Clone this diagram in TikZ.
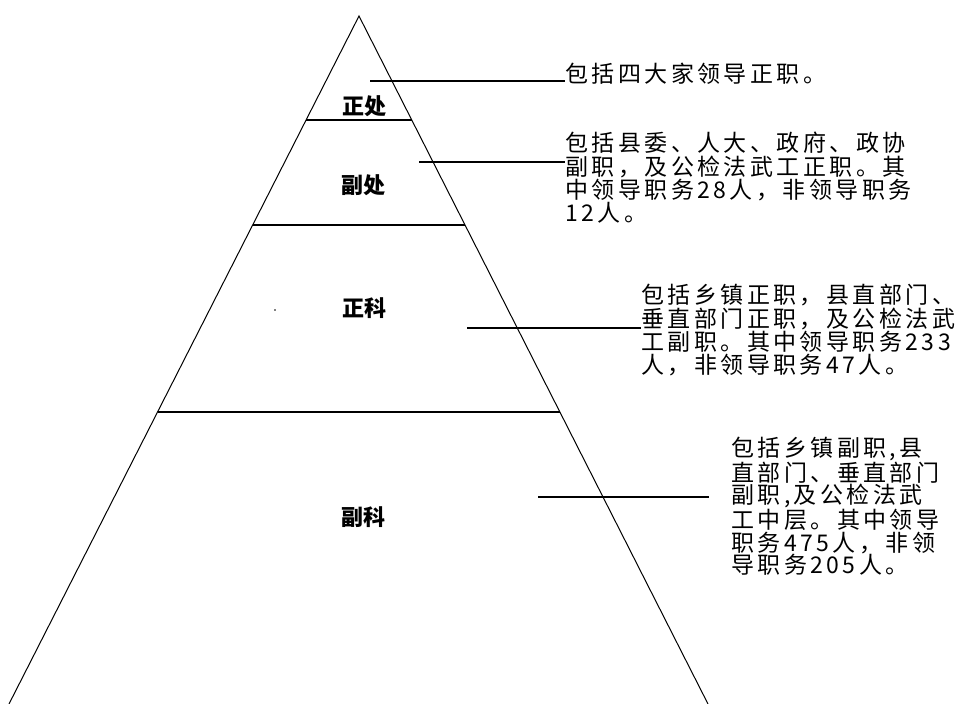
\documentclass[tikz,border=0pt]{standalone}
\usepackage{fontspec}
\setmainfont{Noto Sans CJK SC}
\newfontfamily\descfont[LetterSpace=15]{Noto Sans CJK SC}
\newfontfamily\labfont{Noto Sans CJK SC}
\usetikzlibrary{calc}
\begin{document}
\begin{tikzpicture}[x=1pt,y=-1pt,
  edge/.style={line width=1pt,black},
  leader/.style={line width=1.1pt,black},
  lvl/.style={font=\labfont\bfseries\fontsize{22}{24}\selectfont,inner sep=0pt},
  desc/.style={font=\descfont\fontsize{23}{23.4}\selectfont,inner sep=0pt,align=left,anchor=north west}]
\useasboundingbox (0,0) rectangle (964,704);
\fill[white] (0,0) rectangle (964,704);
% pyramid
\coordinate (apex) at (359,16);
\coordinate (bl) at (9,704);
\coordinate (br) at (708,704);
\draw[edge] (bl) -- (apex) -- (br);
\coordinate (c1l) at ($(apex)!0.1512!(bl)$);
\coordinate (c1r) at ($(apex)!0.1512!(br)$);
\coordinate (c2l) at ($(apex)!0.3038!(bl)$);
\coordinate (c2r) at ($(apex)!0.3038!(br)$);
\coordinate (c3l) at ($(apex)!0.5756!(bl)$);
\coordinate (c3r) at ($(apex)!0.5756!(br)$);
\draw[leader] (c1l) -- (c1r);
\draw[leader] (c2l) -- (c2r);
\draw[leader] (c3l) -- (c3r);
% level labels
\node[lvl] (zc) at (364,106) {正处};
\node[lvl] (fc) at (363,185) {副处};
\node[lvl] (zk) at (364,308) {正科};
\node[lvl] (fk) at (363,517) {副科};
\fill (275,310) circle (0.8);
% descriptions
\node[desc] (t1) at (565,63) {包括四大家领导正职。};
\node[desc] (t2) at (565,132) {包括县委、人大、政府、政协\\副职，及公检法武工正职。其\\中领导职务28人，非领导职务\\12人。};
\node[desc] (t3) at (641,284) {包括乡镇正职，县直部门、\\垂直部门正职，及公检法武\\工副职。其中领导职务233\\人，非领导职务47人。};
\node[desc,font=\descfont\fontsize{23}{22.5}\selectfont] (t4) at (731,437) {包括乡镇副职,县\\直部门、垂直部门\\副职,及公检法武\\工中层。其中领导\\职务475人，非领\\导职务205人。};
% leaders
\coordinate (p1) at (370,81);
\coordinate (p2) at (419,162);
\coordinate (p3) at (467,328);
\coordinate (p4) at (538,497);
\draw[leader] (p1) -- (p1 -| t1.west);
\draw[leader] (p2) -- (p2 -| t2.west);
\draw[leader] (p3) -- (p3 -| t3.west);
\draw[leader] (p4) -- ($(p4 -| t4.west)+(-22,0)$);
\end{tikzpicture}
\end{document}
